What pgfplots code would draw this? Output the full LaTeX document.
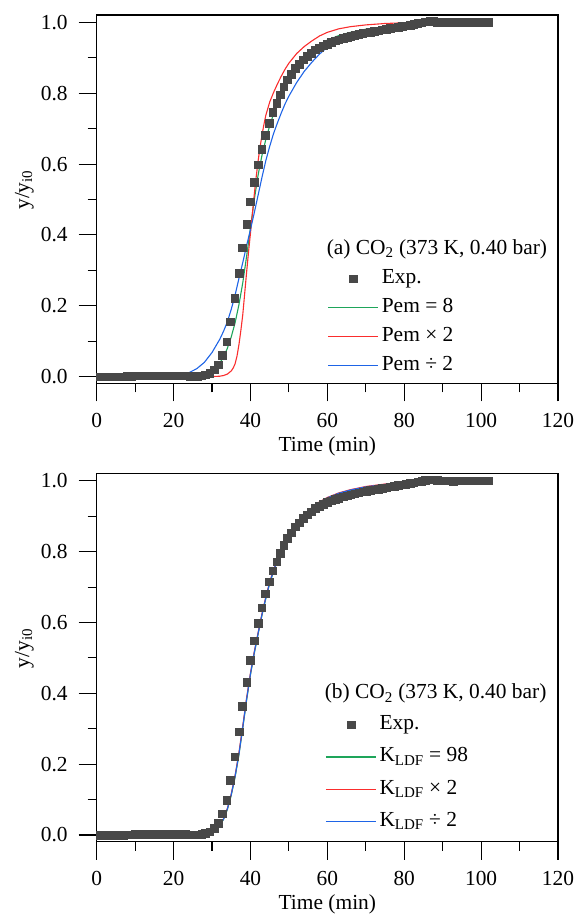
\documentclass[border=0pt]{standalone}
\usepackage{fontspec}
\setmainfont{Liberation Serif}
\usepackage{pgfplots}
\usepackage{pgfplotstable}
\pgfplotsset{compat=1.18}
\definecolor{cgreen}{RGB}{30,165,90}
\definecolor{cred}{RGB}{250,45,45}
\definecolor{cblue}{RGB}{30,100,230}
\definecolor{expgray}{RGB}{72,72,72}
\newcommand{\fs}{\fontsize{21.5}{25}\selectfont}

\pgfplotstableread{
t v
0.8 0.000
1.8 0.000
2.9 0.000
3.9 0.000
4.9 0.000
5.9 0.000
6.9 0.000
8.0 0.001
9.0 0.001
10.0 0.002
11.0 0.002
12.0 0.002
13.0 0.002
14.1 0.002
15.1 0.002
16.1 0.002
17.1 0.002
18.1 0.002
19.2 0.002
20.2 0.002
21.2 0.002
22.2 0.002
23.2 0.002
24.3 0.001
25.3 0.001
26.3 0.001
27.3 0.003
28.3 0.005
29.4 0.009
30.5 0.019
31.6 0.033
32.7 0.060
33.8 0.099
34.8 0.155
35.9 0.221
37.0 0.292
37.9 0.364
39.0 0.431
39.9 0.494
40.9 0.549
42.0 0.598
42.9 0.642
43.9 0.681
44.8 0.715
45.8 0.746
46.8 0.772
47.7 0.796
48.6 0.819
49.6 0.838
50.6 0.854
51.6 0.871
52.6 0.882
53.7 0.895
54.7 0.904
55.8 0.913
56.9 0.923
57.9 0.929
58.9 0.934
60.0 0.939
61.0 0.944
62.0 0.948
63.0 0.951
64.1 0.955
65.1 0.958
66.1 0.961
67.1 0.964
68.2 0.966
69.2 0.969
70.2 0.971
71.2 0.973
72.2 0.975
73.3 0.977
74.3 0.979
75.3 0.981
76.3 0.983
77.4 0.985
78.4 0.987
79.4 0.989
80.4 0.991
81.5 0.993
82.5 0.995
83.5 0.997
84.5 0.999
85.5 1.002
86.6 1.003
87.6 1.003
88.6 1.001
89.6 1.000
90.7 1.000
91.7 1.000
92.7 0.999
93.7 1.000
94.7 1.000
95.8 1.000
96.8 1.000
97.8 1.000
98.8 1.000
99.9 1.000
100.9 1.000
101.9 1.000
}\expdata

\pgfplotsset{
  myaxis/.style={
    scale only axis, width=461.3bp, height=368.3bp,
    xmin=0, xmax=120, ymin=-0.019, ymax=1.021,
    xtick={0,20,40,60,80,100,120},
    ytick={0,0.2,0.4,0.6,0.8,1.0},
    minor x tick num=1, minor y tick num=1,
    tick align=outside, xtick pos=bottom, ytick pos=left,
    major tick length=18bp, minor tick length=9bp,
    axis line style={line width=1.1bp},
    tick style={line width=1.1bp, black},
    tick label style={font=\fs},
    label style={font=\fs},
    xticklabel shift=8.5bp,
    yticklabel shift=7.5bp,
    /pgf/number format/assume math mode=true,
    yticklabel style={/pgf/number format/.cd, fixed, fixed zerofill, precision=1},
    xticklabel style={/pgf/number format/.cd, fixed, precision=0},
    xlabel={Time (min)},
    ylabel={y/y\textsubscript{i0}},
    xlabel style={at={(axis description cs:0.5,-0.170)}, anchor=center},
    ylabel style={at={(axis description cs:-0.157,0.525)}, anchor=center},
    legend image code/.code={\draw[mark repeat=2,mark phase=2,##1] plot coordinates {(0bp,0bp)(25bp,0bp)(50bp,0bp)};},
    legend cell align=left,
    legend style={draw=none, fill=none, font=\fs, inner sep=0pt, outer sep=0pt,
      column sep=3bp, nodes={inner sep=0pt, text height=15bp, text depth=5bp}},
  },
  expstyle/.style={only marks, mark=square*, mark size=3.8bp, color=expgray},
  linestyle/.style={no marks, line width=1.1bp},
}

\begin{document}
\begin{tikzpicture}
\path[use as bounding box] (0,0) rectangle (576bp,915bp);

% ---------------- (a) ----------------
\begin{axis}[myaxis, at={(96.7bp,531.7bp)}, anchor=south west,
  legend style={at={(axis cs:60.1,0.305)}, anchor=north west, row sep=9bp}]
\addplot[expstyle] table[x=t,y=v]{\expdata};
\addlegendentry{Exp.}
\addplot[linestyle, cgreen] coordinates {
(0,0) (20,0) (25,0.001) (27,0.003) (28,0.006) (29,0.011) (30,0.018) (31,0.027)
(32,0.038) (33,0.055) (34,0.08) (35,0.112) (36,0.152) (37,0.203) (38,0.265)
(39,0.34) (40,0.42) (41,0.50) (42,0.57) (43,0.625) (44,0.67) (45,0.708)
(46,0.742) (47,0.772) (48,0.798) (49,0.82) (50,0.84) (51,0.857) (52,0.872)
(54,0.898) (56,0.92) (58,0.938) (60,0.950) (63,0.963) (66,0.972) (70,0.981)
(75,0.988) (80,0.993) (85,0.997) (90,0.999) (95,1.0) (99.5,1.0)};
\addlegendentry{Pem = 8}
\addplot[linestyle, cred] coordinates {
(0,0) (30,0) (32,0.001) (33,0.003) (34,0.007) (35,0.016) (35.5,0.024) (36,0.036)
(36.5,0.058) (37,0.09) (37.5,0.13) (38,0.175) (38.5,0.235) (39,0.295) (39.5,0.352)
(40,0.405) (40.5,0.46) (41,0.515) (41.5,0.565) (42,0.61) (42.5,0.648) (43,0.682)
(43.5,0.712) (44,0.738) (45,0.775) (46,0.802) (47,0.826) (48,0.848) (49,0.868)
(50,0.885) (52,0.912) (54,0.932) (56,0.948) (58,0.962) (60,0.972) (63,0.982)
(66,0.988) (70,0.993) (75,0.997) (80,0.999) (85,1.0) (99.5,1.0)};
\addlegendentry{Pem × 2}
\addplot[linestyle, cblue] coordinates {
(0,0) (18,0) (20,0.002) (22,0.005) (24,0.011) (26,0.022) (28,0.04) (30,0.068)
(32,0.105) (33,0.128) (34,0.155) (35,0.19) (36,0.23) (37,0.277) (38,0.322)
(39,0.37) (40,0.415) (41,0.463) (42,0.513) (43,0.563) (44,0.61) (45,0.65)
(46,0.686) (47,0.716) (48,0.744) (49,0.77) (50,0.792) (52,0.83) (54,0.862)
(56,0.888) (58,0.911) (60,0.930) (63,0.952) (66,0.967) (70,0.979) (75,0.989)
(80,0.995) (85,0.998) (90,1.0) (99.5,1.0)};
\addlegendentry{Pem ÷ 2}
\node[anchor=base west, inner sep=0pt, font=\fs] at (axis cs:59.8,0.344) {(a) CO\textsubscript{2} (373 K, 0.40 bar)};
\end{axis}

% ---------------- (b) ----------------
\begin{axis}[myaxis, at={(96.7bp,73.3bp)}, anchor=south west,
  legend style={at={(axis cs:59.5,0.340)}, anchor=north west, row sep=12.4bp}]
\addplot[expstyle] table[x=t,y=v]{\expdata};
\addlegendentry{Exp.}
\addplot[linestyle, cgreen] coordinates {
(0,0) (26,0) (27,0.002) (28,0.003) (29,0.006) (30,0.010) (31,0.016) (32,0.027)
(33,0.044) (34,0.072) (35,0.112) (36,0.163) (37,0.226) (38,0.302) (39,0.381)
(40,0.452) (41,0.513) (42,0.568) (43,0.621) (44,0.668) (45,0.71) (46,0.744)
(47,0.774) (48,0.8) (49,0.822) (50,0.841) (52,0.873) (54,0.9) (56,0.921)
(58,0.938) (60,0.951) (63,0.964) (66,0.973) (70,0.982) (75,0.989) (80,0.994)
(85,0.997) (90,0.999) (99.5,1.0)};
\addlegendentry{K\textsubscript{LDF} = 98}
\addplot[linestyle, cred] coordinates {
(0,0) (26,0) (27,0.002) (28,0.003) (29,0.006) (30,0.010) (31,0.017) (32,0.028)
(33,0.046) (34,0.075) (35,0.116) (36,0.168) (37,0.232) (38,0.308) (39,0.387)
(40,0.457) (41,0.518) (42,0.572) (43,0.625) (44,0.672) (45,0.714) (46,0.748)
(47,0.778) (48,0.804) (49,0.826) (50,0.845) (52,0.877) (54,0.904) (56,0.925)
(58,0.941) (60,0.953) (63,0.966) (66,0.975) (70,0.984) (75,0.991) (80,0.995)
(85,0.998) (90,1.0) (99.5,1.0)};
\addlegendentry{K\textsubscript{LDF} × 2}
\addplot[linestyle, cblue] coordinates {
(0,0) (26,0) (27,0.002) (28,0.003) (29,0.006) (30,0.010) (31,0.017) (32,0.028)
(33,0.045) (34,0.074) (35,0.114) (36,0.166) (37,0.229) (38,0.305) (39,0.384)
(40,0.455) (41,0.516) (42,0.57) (43,0.623) (44,0.67) (45,0.712) (46,0.746)
(47,0.776) (48,0.802) (49,0.824) (50,0.843) (52,0.875) (54,0.902) (56,0.923)
(58,0.94) (60,0.952) (63,0.965) (66,0.974) (70,0.983) (75,0.99) (80,0.995)
(85,0.998) (90,1.0) (99.5,1.0)};
\addlegendentry{K\textsubscript{LDF} ÷ 2}
\node[anchor=base west, inner sep=0pt, font=\fs] at (axis cs:59.3,0.384) {(b) CO\textsubscript{2} (373 K, 0.40 bar)};
\end{axis}
\end{tikzpicture}
\end{document}
